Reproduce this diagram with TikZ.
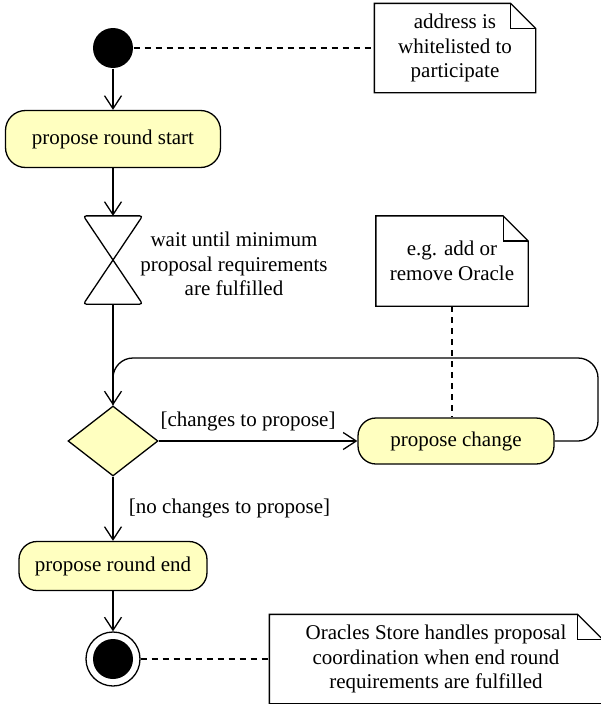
\documentclass[tikz,border=0pt]{standalone}
\usepackage{fontspec}
\setmainfont{Liberation Serif}
\usetikzlibrary{shapes.geometric,arrows.meta,positioning}
\definecolor{actfill}{RGB}{255,255,192}
% dog-eared outline round a note node
\newcommand{\notebox}[1]{%
  \draw ([xshift=-25pt]#1.north east) -- (#1.north west) -- (#1.south west) -- (#1.south east)
    -- ([yshift=-25pt]#1.north east) -- cycle;
  \draw ([xshift=-25pt]#1.north east) |- ([yshift=-25pt]#1.north east);}
\begin{document}
\begin{tikzpicture}
[x=1pt, y=-1pt, font=\rmfamily\fontsize{21}{24.5}\selectfont, line width=1.3pt,
 >={Straight Barb[length=13pt,width=17pt]}]
\tikzstyle{action}=[rectangle, draw, fill=actfill, rounded corners=18pt, inner sep=0pt]
\tikzstyle{flow}=[->]
\tikzstyle{link}=[dash pattern=on 6pt off 5pt]
\tikzstyle{note}=[align=center, minimum height=88pt, inner sep=0pt]
\useasboundingbox (0,0) rectangle (600,704);

\node[circle, fill=black, minimum size=40pt, inner sep=0pt] (init) at (113,48) {};
\node[action, minimum width=215pt, minimum height=57pt, rounded corners=20pt] (start) at (113,139) {propose round start};
\node[minimum width=58pt, minimum height=87pt, inner sep=0pt] (wait) at (113,260) {};
\node[align=center] (waitlbl) at (234,264) {wait until minimum\\proposal requirements\\are fulfilled};
\node[diamond, draw, fill=actfill, minimum width=90pt, minimum height=70pt, inner sep=0pt] (dec) at (113,441) {};
\node[action, minimum width=196pt, minimum height=46pt] (change) at (456,441) {propose change};
\node[action, minimum width=188pt, minimum height=49pt] (end) at (113,566) {propose round end};
\node[circle, draw, minimum size=54pt, inner sep=0pt] (final) at (113,659) {};
\fill (final.center) circle (20pt);

\node[note, minimum width=160pt] (note1) at (455,48) {address is\\whitelisted to\\participate};
\node[note, minimum width=151pt, minimum height=89pt] (note2) at (452,261) {e.g. add or\\remove Oracle};
\node[note, minimum width=332pt] (note3) at (436,659) {Oracles Store handles proposal\\coordination when end round\\requirements are fulfilled};
\notebox{note1}
\notebox{note2}
\notebox{note3}

% hourglass
\draw[rounded corners=3pt] (wait.north west) -- (wait.north east) -- (wait.south west) -- (wait.south east) -- cycle;

\draw[flow] (init) -- (start);
\draw[flow] (start) -- (wait.north);
\draw[flow] (wait.south) -- (dec.north);
\draw[flow] (dec.east) -- node[above=6pt, pos=0.45] {[changes to propose]} (change.west);
\draw[rounded corners=20pt] (change.east) -- (598,441) -- (598,358) -- (113,358) -- (dec.north);
\draw[flow] (dec.south) -- node[right=12pt] {[no changes to propose]} (end.north);
\draw[flow] (end) -- (final);

\draw[link] (init) -- (note1.west);
\draw[link] (note2.south) -- (note2.south |- change.north);
\draw[link] (final) -- (note3.west);
\end{tikzpicture}
\end{document}
